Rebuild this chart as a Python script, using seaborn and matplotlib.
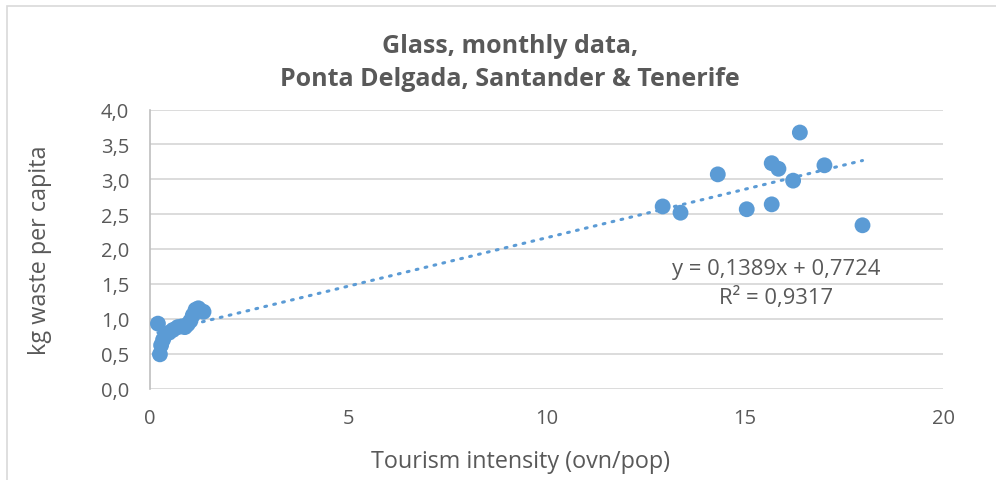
import matplotlib
matplotlib.use("Agg")
import matplotlib.pyplot as plt
from matplotlib.patches import Rectangle
import numpy as np
import pandas as pd
import seaborn as sns

# Monthly glass collection vs. tourism intensity
tourism_intensity = [
    0.20, 0.25, 0.28, 0.33, 0.40, 0.48, 0.58, 0.70, 0.80, 0.88, 0.95, 1.02,
    1.08, 1.15, 1.22, 1.35,
    12.93, 13.38, 14.32, 15.05, 15.68, 15.68, 15.85, 16.22, 16.39, 17.01, 17.97,
]
waste_per_capita = [
    0.93, 0.49, 0.62, 0.70, 0.78, 0.80, 0.84, 0.88, 0.89, 0.88, 0.92, 0.97,
    1.05, 1.13, 1.15, 1.10,
    2.61, 2.52, 3.07, 2.57, 2.64, 3.23, 3.15, 2.98, 3.67, 3.20, 2.34,
]

# Linear trendline as reported in the chart
slope = 0.1389
intercept = 0.7724
r_squared = 0.9317

x_ticks = [0, 5, 10, 15, 20]
y_ticks = [0.0, 0.5, 1.0, 1.5, 2.0, 2.5, 3.0, 3.5, 4.0]

title_text = "Glass, monthly data,\nPonta Delgada, Santander & Tenerife"
x_label = "Tourism intensity (ovn/pop)"
y_label = "kg waste per capita"

BLUE = "#5B9BD5"
TEXT = "#595959"
GRID = "#D9D9D9"

sns.set_theme(style="white")
plt.rcParams["font.family"] = ["Open Sans", "DejaVu Sans"]

df = pd.DataFrame({"x": tourism_intensity, "y": waste_per_capita})
x_min, x_max = df["x"].min(), df["x"].max()
trend = pd.DataFrame({"x": [x_min, x_max]})
trend["y"] = slope * trend["x"] + intercept

W, H = 996, 481
fig = plt.figure(figsize=(W / 100, H / 100), dpi=100)
fig.patch.set_facecolor("white")

# Chart-area frame
fig.add_artist(Rectangle((7 / W, -0.05), 1.2, 1 - 7 / H + 0.05,
                         transform=fig.transFigure, fill=False,
                         edgecolor=GRID, lw=1.2))

ax = fig.add_axes([150 / W, 1 - 389.5 / H, (943 - 150) / W, (389.5 - 110.5) / H])

sns.lineplot(data=trend, x="x", y="y", ax=ax, color=BLUE, lw=2.2,
             linestyle=(0, (0.6, 2.4)), dash_capstyle="round", zorder=2)
sns.scatterplot(data=df, x="x", y="y", ax=ax, color=BLUE, s=130,
                edgecolor="none", zorder=3)

ax.set_xlim(0, 20)
ax.set_ylim(0, 4.0)
ax.set_xticks(x_ticks)
ax.set_yticks(y_ticks)
ax.set_xticklabels([str(t) for t in x_ticks])
ax.set_yticklabels([f"{t:.1f}".replace(".", ",") for t in y_ticks])
ax.tick_params(axis="both", length=0, labelsize=14.5, colors=TEXT)
ax.tick_params(axis="y", pad=15)
ax.tick_params(axis="x", pad=14)

ax.yaxis.grid(True, color=GRID, lw=1.3)
ax.xaxis.grid(False)
ax.set_axisbelow(True)
for side in ["top", "right", "bottom"]:
    ax.spines[side].set_visible(False)
ax.spines["left"].set_color("#BFBFBF")
ax.spines["left"].set_linewidth(1.2)

ax.set_xlabel("")
ax.set_ylabel("")

fig.text(520 / W, 1 - 462 / H, x_label, ha="center", va="center",
         fontsize=16.8, color=TEXT)
fig.text(40 / W, 1 - 250 / H, y_label, ha="center", va="center",
         rotation=90, fontsize=16.8, color=TEXT)
fig.text(510 / W, 1 - 63 / H, title_text, ha="center", va="center",
         fontsize=18, fontweight="bold", color=TEXT, linespacing=1.45)

eq = f"y = {slope:.4f}x + {intercept:.4f}".replace(".", ",")
r2 = f"R² = {r_squared:.4f}".replace(".", ",")
fig.text(776 / W, 1 - 270 / H, eq, ha="center", va="center",
         fontsize=15.8, color=TEXT)
fig.text(776 / W, 1 - 298 / H, r2, ha="center", va="center",
         fontsize=15.8, color=TEXT)

fig.savefig("out.png", dpi=100, facecolor="white")
